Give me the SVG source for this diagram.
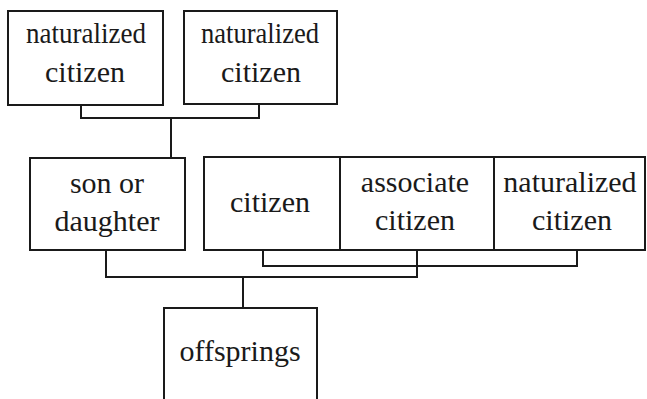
<svg xmlns="http://www.w3.org/2000/svg" width="647" height="399" viewBox="0 0 647 399">
<style>
.box{fill:#fff;stroke:#1a1a1a;stroke-width:2}
.ln{fill:none;stroke:#1a1a1a;stroke-width:2}
.t{font-family:"Liberation Serif","Times New Roman",serif;font-size:30px;fill:#1a1a1a;text-anchor:middle}
</style>
<rect width="647" height="399" fill="#fff"/>
<g id="connectors">
<path class="ln" d="M81,105 V118 H259 V104 M171,118 V158"/>
<path class="ln" d="M263,250 V266 H577 V250"/>
<path class="ln" d="M106,250 V277 H417 V250 M243,277 V308"/>
</g>
<g id="nat1">
<rect class="box" x="8" y="11" width="155" height="94"/>
<text class="t" x="86" y="43" textLength="120" lengthAdjust="spacingAndGlyphs">naturalized</text>
<text class="t" x="85" y="82">citizen</text>
</g>
<g id="nat2">
<rect class="box" x="184" y="11" width="153" height="93"/>
<text class="t" x="260" y="43" textLength="118" lengthAdjust="spacingAndGlyphs">naturalized</text>
<text class="t" x="261" y="82">citizen</text>
</g>
<g id="son">
<rect class="box" x="30" y="158" width="155" height="92"/>
<text class="t" x="107" y="193">son or</text>
<text class="t" x="107" y="231">daughter</text>
</g>
<g id="citizen">
<rect class="box" x="204" y="157" width="136" height="93"/>
<text class="t" x="270" y="212">citizen</text>
</g>
<g id="associate">
<rect class="box" x="340" y="157" width="154" height="93"/>
<text class="t" x="415" y="192">associate</text>
<text class="t" x="415" y="230">citizen</text>
</g>
<g id="nat3">
<rect class="box" x="494" y="157" width="151" height="93"/>
<text class="t" x="570" y="192">naturalized</text>
<text class="t" x="572" y="230">citizen</text>
</g>
<g id="offsprings">
<rect class="box" x="164" y="308" width="153" height="100"/>
<text class="t" x="240" y="361">offsprings</text>
</g>
</svg>
